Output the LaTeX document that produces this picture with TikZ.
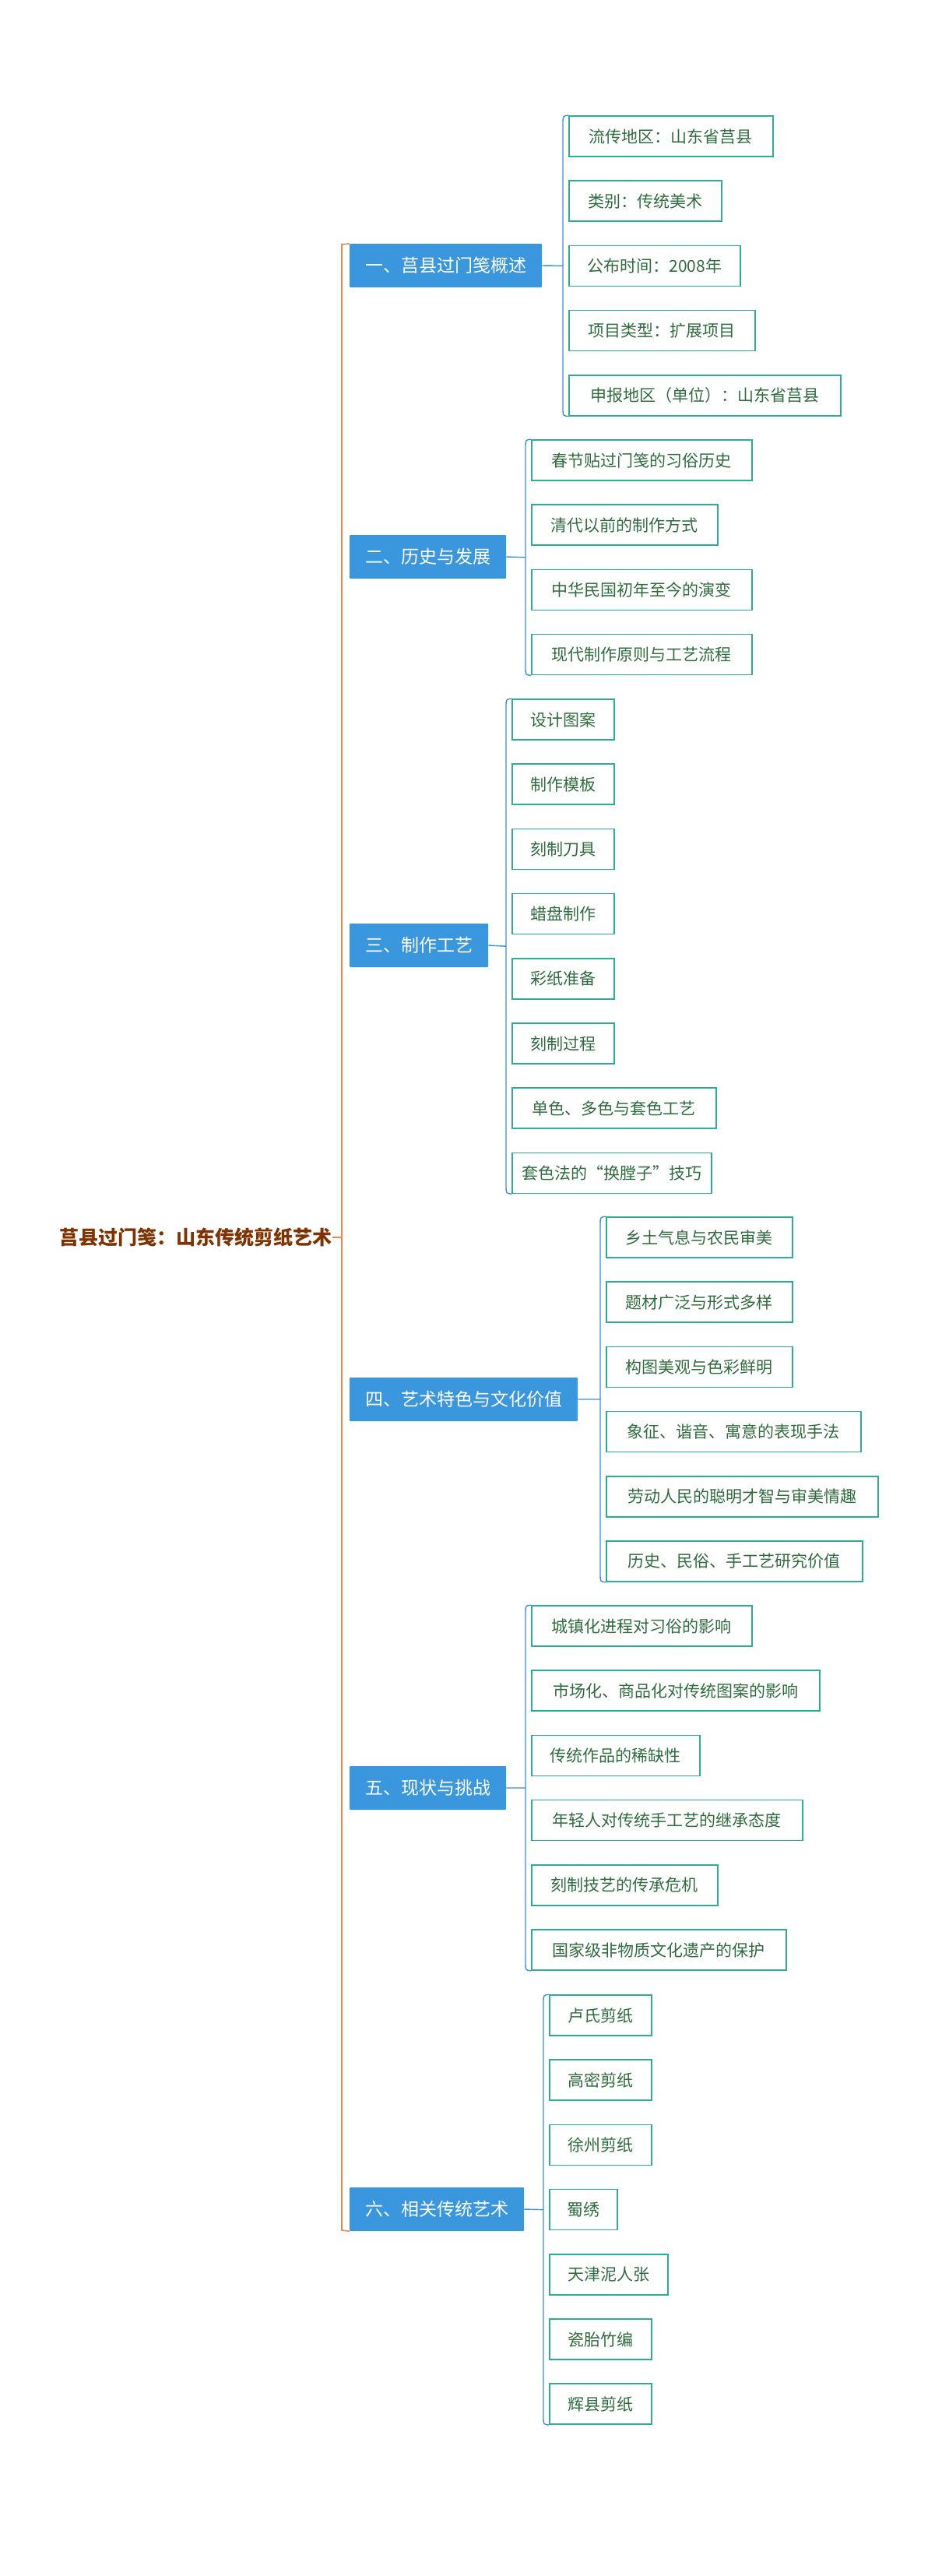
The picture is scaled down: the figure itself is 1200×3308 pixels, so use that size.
\documentclass[tikz,border=0pt]{standalone}
\usepackage{fontspec}
\setmainfont{Noto Sans CJK SC}
\begin{document}
\definecolor{lblue}{HTML}{3A96DD}
\definecolor{bline}{HTML}{3A8FD8}
\definecolor{teal}{HTML}{2BAE93}
\definecolor{ctext}{HTML}{2E6B3E}
\definecolor{roott}{HTML}{7F3300}
\definecolor{orng}{HTML}{E8884A}
\begin{tikzpicture}[x=1pt,y=-1pt,
  root/.style={font=\fontsize{25}{30}\selectfont\bfseries, text=roott, inner sep=0pt},
  lone/.style={fill=lblue, text=white, font=\fontsize{23}{28}\selectfont, minimum height=56pt, inner xsep=20pt, rounded corners=1pt, anchor=west},
  child/.style={draw=teal, line width=1.6pt, text=ctext, font=\fontsize{21}{26}\selectfont, minimum height=52pt, inner xsep=0pt, anchor=west, align=center},
  br/.style={draw=bline, line width=1.4pt},
  ob/.style={draw=orng, line width=1.6pt}]
\useasboundingbox (0,0) rectangle (1200,3308);
\newcommand\mygroup[6]{% name, x, y0, n, parent, list
  \foreach \t/\w [count=\i] in {#6} {
    \node[child, minimum width=\w pt] (#1c\i) at (#2, #3+\i*83.2-83.2) {\t};
  }
  \pgfmathsetmacro\bx{#2-7}
  \pgfmathsetmacro\ytop{#3-26}
  \pgfmathsetmacro\ybot{#3+#4*83.2-83.2+26}
  \draw[br] (#1c1.north west) .. controls (\bx,\ytop) .. (\bx,\ytop+10) -- (\bx,\ybot-10) .. controls (\bx,\ybot) .. (#1c#4.south west);
  \draw[br] (#5.east) -- (\bx,#3+#4*41.6-41.6);
}
\node[root, anchor=east] (root) at (427,1589) {莒县过门笺：山东传统剪纸艺术};
\node[lone] (a) at (449,341) {一、莒县过门笺概述};
\node[lone] (b) at (449,715) {二、历史与发展};
\node[lone] (c) at (449,1214) {三、制作工艺};
\node[lone] (d) at (449,1797) {四、艺术特色与文化价值};
\node[lone] (e) at (449,2296) {五、现状与挑战};
\node[lone] (f) at (449,2837) {六、相关传统艺术};
\draw[ob] (a.north west) -- (439,314) -- (439,2864) -- (f.south west);
\draw[ob] (root.east) -- (439,1589);
\mygroup{a}{730}{175}{5}{a}{流传地区：山东省莒县/262, 类别：传统美术/196, 公布时间：2008年/220, 项目类型：扩展项目/239, 申报地区（单位）：山东省莒县/349}
\mygroup{b}{682}{591}{4}{b}{春节贴过门笺的习俗历史/283, 清代以前的制作方式/239, 中华民国初年至今的演变/283, 现代制作原则与工艺流程/283}
\mygroup{c}{657}{924}{8}{c}{设计图案/131, 制作模板/131, 刻制刀具/131, 蜡盘制作/131, 彩纸准备/131, 刻制过程/131, 单色、多色与套色工艺/262, 套色法的“换膛子”技巧/256}
\mygroup{d}{778}{1589}{6}{d}{乡土气息与农民审美/239, 题材广泛与形式多样/239, 构图美观与色彩鲜明/239, 象征、谐音、寓意的表现手法/327, 劳动人民的聪明才智与审美情趣/349, 历史、民俗、手工艺研究价值/329}
\mygroup{e}{682}{2088}{6}{e}{城镇化进程对习俗的影响/283, 市场化、商品化对传统图案的影响/370, 传统作品的稀缺性/216, 年轻人对传统手工艺的继承态度/348, 刻制技艺的传承危机/239, 国家级非物质文化遗产的保护/327}
\mygroup{f}{705}{2588}{7}{f}{卢氏剪纸/131, 高密剪纸/131, 徐州剪纸/131, 蜀绣/87, 天津泥人张/152, 瓷胎竹编/131, 辉县剪纸/131}
\end{tikzpicture}
\end{document}
